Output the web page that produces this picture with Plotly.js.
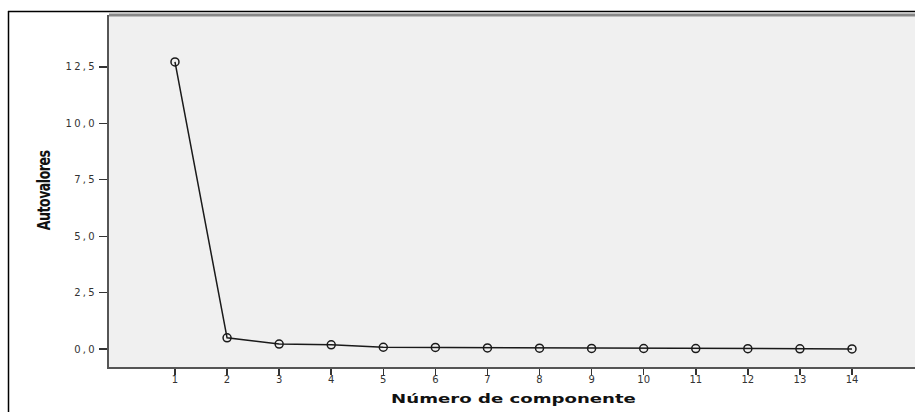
<!DOCTYPE html>
<html>
<head>
<meta charset="utf-8">
<script src="https://cdn.plot.ly/plotly-3.0.1.min.js"></script>
<style>
html,body{margin:0;padding:0;background:#fff;}
#chart{width:915px;height:412px;}
.ytick text{letter-spacing:2.3px;}
</style>
</head>
<body>
<div id="chart"></div>
<script>
const componentes = [1,2,3,4,5,6,7,8,9,10,11,12,13,14];
const autovalores = [12.72,0.50,0.22,0.19,0.08,0.07,0.05,0.04,0.03,0.025,0.02,0.015,0.01,0.005];
const yTickVals = [0,2.5,5,7.5,10,12.5];
const yTickText = ['0,0','2,5','5,0','7,5','10,0','12,5'];
const xTitle = 'Número de componente';
const yTitle = 'Autovalores';

const trace = {
  x: componentes, y: autovalores, type: 'scatter', mode: 'lines+markers',
  line: {color: '#1a1a1a', width: 1.5},
  marker: {symbol: 'circle-open', size: 8, color: '#1a1a1a', line: {width: 1.5, color: '#1a1a1a'}},
  hoverinfo: 'skip', cliponaxis: false
};

const L = 109, T = 15, W = 806, H = 352;
const px = v => (v - L) / W;
const py = v => (T + H - v) / H;

const layout = {
  width: 915, height: 412,
  margin: {l: L, r: 0, t: T, b: 45, pad: 0},
  paper_bgcolor: '#ffffff', plot_bgcolor: '#f0f0f0',
  showlegend: false,
  font: {family: 'DejaVu Sans, sans-serif', color: '#222'},
  xaxis: {
    range: [-0.267, 15.21], tickvals: componentes, ticktext: componentes.map(String),
    ticks: 'outside', ticklen: 6, tickwidth: 1.5, tickcolor: '#333', ticklabelstandoff: -4,
    showgrid: false, zeroline: false, showline: true, linecolor: '#555', linewidth: 2,
    tickfont: {size: 10, color: '#333', family: 'DejaVu Sans, sans-serif'}
  },
  yaxis: {
    range: [-0.795, 14.8], tickvals: yTickVals, ticktext: yTickText,
    ticks: 'outside', ticklen: 8, tickwidth: 1.2, tickcolor: '#333',
    showgrid: false, zeroline: false, showline: true, linecolor: '#555', linewidth: 2,
    tickfont: {size: 10, color: '#333', family: 'DejaVu Sans, sans-serif'}
  },
  shapes: [
    {type: 'line', xref: 'paper', yref: 'paper', x0: px(8), x1: px(915), y0: py(11.5), y1: py(11.5), line: {color: '#000', width: 1.5}},
    {type: 'line', xref: 'paper', yref: 'paper', x0: px(8.5), x1: px(8.5), y0: py(11), y1: py(412), line: {color: '#000', width: 1.5}},
    {type: 'line', xref: 'paper', yref: 'paper', x0: 0, x1: 1, y0: 1, y1: 1, line: {color: '#888', width: 3}}
  ],
  annotations: [
    {text: '<b>' + xTitle + '</b>', xref: 'paper', yref: 'paper', x: px(513), y: py(398), xanchor: 'center', yanchor: 'middle', showarrow: false,
     font: {family: 'DejaVu Sans, Verdana, sans-serif', size: 12.5, color: '#111'}},
    {text: '<b>' + yTitle + '</b>', xref: 'paper', yref: 'paper', x: px(44), y: py(191), xanchor: 'center', yanchor: 'middle', showarrow: false, textangle: -90,
     font: {family: 'Liberation Sans Narrow, DejaVu Sans Condensed, Arial Narrow, sans-serif', size: 14, color: '#111'}}
  ]
};

Plotly.newPlot('chart', [trace], layout, {displayModeBar: false, staticPlot: true}).then(function () {
  const t = document.querySelectorAll('.annotation-text');
  if (t[0]) {
    t[0].style.transformBox = 'fill-box';
    t[0].style.transformOrigin = 'center';
    t[0].style.transform = 'scaleX(1.45)';
  }
  if (t[1]) {
    t[1].style.letterSpacing = '-0.5px';
    t[1].style.transformBox = 'fill-box';
    t[1].style.transformOrigin = 'center';
    t[1].style.transform = 'scaleY(1.3)';
  }
});
</script>
</body>
</html>
